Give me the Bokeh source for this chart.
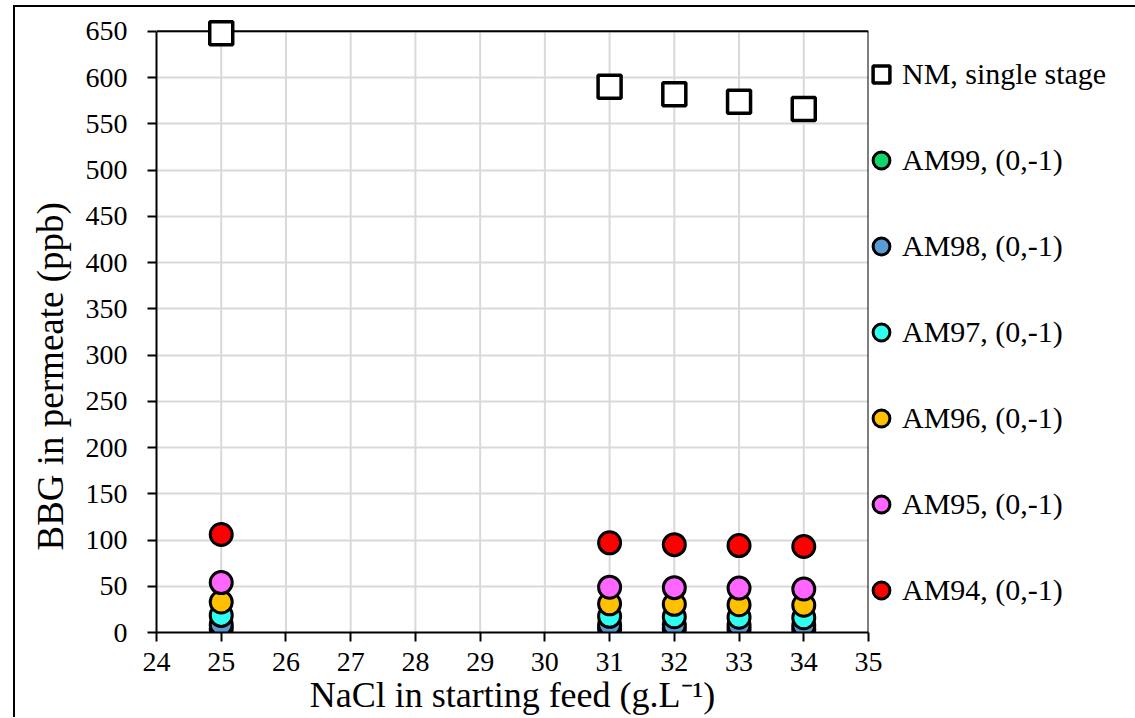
import math
from bokeh.plotting import figure
from bokeh.models import Range1d, FixedTicker, Legend, LegendItem, Title
from bokeh.embed import file_html
from bokeh.resources import INLINE

# ---- data ----
nacl = [25, 31, 32, 33, 34]
nm_single = [648, 590, 582, 574, 566]
am99 = [4, 3.8, 3.7, 3.6, 3.5]
am98 = [8.5, 8.3, 8, 7.8, 7.5]
am97 = [18.5, 17.5, 17, 16.5, 16]
am96 = [33, 31, 30.5, 30, 29.5]
am95 = [54, 49, 48.5, 48, 47]
am94 = [106, 97, 95, 94, 93]

x_ticks = list(range(24, 36))
y_ticks = list(range(0, 651, 50))

series_names = ["AM99, (0,-1)", "AM98, (0,-1)", "AM97, (0,-1)",
                "AM96, (0,-1)", "AM95, (0,-1)", "AM94, (0,-1)"]
series_values = [am99, am98, am97, am96, am95, am94]
series_colors = ["#14D46E", "#5B9BD5", "#2EFFF0", "#FFC000", "#FF66FF", "#FF0000"]

FONT = "Liberation Serif"
x0, x1 = x_ticks[0], x_ticks[-1]
y0, y1 = y_ticks[0], y_ticks[-1]

p = figure(frame_width=712, frame_height=615,
           min_border_left=140, min_border_right=259,
           min_border_top=10, min_border_bottom=70,
           x_range=Range1d(x0, x1), y_range=Range1d(y0, 665),
           output_backend="svg", toolbar_location=None)
p.margin = (5, 0, 0, 13)
p.styles = {"border-top": "2px solid black", "border-left": "2px solid black",
            "border-right": "2px solid black"}
p.outline_line_color = None

for ax in (p.xaxis[0], p.yaxis[0]):
    ax.axis_line_color = "black"
    ax.axis_line_width = 2
    ax.major_tick_line_color = "black"
    ax.major_tick_line_width = 2
    ax.major_tick_out = 9
    ax.major_tick_in = 0
    ax.minor_tick_line_color = None
    ax.major_label_text_font = FONT
    ax.major_label_text_font_size = "28px"
    ax.major_label_text_color = "black"

p.xaxis.ticker = FixedTicker(ticks=x_ticks)
p.yaxis.ticker = FixedTicker(ticks=y_ticks)
p.yaxis.bounds = (y0, y1)
p.yaxis.major_label_standoff = 20
p.xaxis.major_label_standoff = 11

p.xaxis.axis_label = "NaCl in starting feed (g.L\u207b\u00b9)"
p.xaxis.axis_label_text_font = FONT
p.xaxis.axis_label_text_font_size = "36px"
p.xaxis.axis_label_text_font_style = "normal"
p.xaxis.axis_label_text_color = "black"
p.xaxis.axis_label_standoff = 1

# grid: horizontal lines via Grid, vertical lines stop at the top value
p.xgrid.visible = False
p.ygrid.ticker = FixedTicker(ticks=y_ticks)
p.ygrid.grid_line_color = "#D9D9D9"
p.ygrid.grid_line_width = 2
p.segment(x0=x_ticks[1:-1], y0=[y0] * (len(x_ticks) - 2),
          x1=x_ticks[1:-1], y1=[y1] * (len(x_ticks) - 2),
          line_color="#D9D9D9", line_width=2, level="underlay")
# plot-area border (top and right)
p.segment(x0=[x0, x1], y0=[y1, y0], x1=[x1, x1], y1=[y1, y1],
          line_color="black", line_width=2)

ytitle = Title(text="BBG in permeate (ppb)", align="left", offset=82,
               text_font=FONT, text_font_size="37px",
               text_font_style="normal", text_color="black", standoff=24)
p.add_layout(ytitle, "left")

items = []
r_nm = p.scatter(nacl, nm_single, marker="square", size=23,
                 fill_color="white", line_color="black", line_width=3.5)
items.append(LegendItem(label="NM, single stage", renderers=[r_nm]))
for name, vals, col in zip(series_names, series_values, series_colors):
    r = p.scatter(nacl, vals, marker="circle", size=22,
                  fill_color=col, line_color="black", line_width=3)
    items.append(LegendItem(label=name, renderers=[r]))

legend = Legend(items=items, location=(-8, 21),
                glyph_width=42, glyph_height=42, label_height=42,
                label_standoff=0, spacing=44, padding=0, margin=0,
                border_line_alpha=0, background_fill_alpha=0,
                label_text_font=FONT, label_text_font_size="30px",
                label_text_color="black")
p.add_layout(legend, "right")

open("out.html", "w").write(file_html(p, INLINE))
